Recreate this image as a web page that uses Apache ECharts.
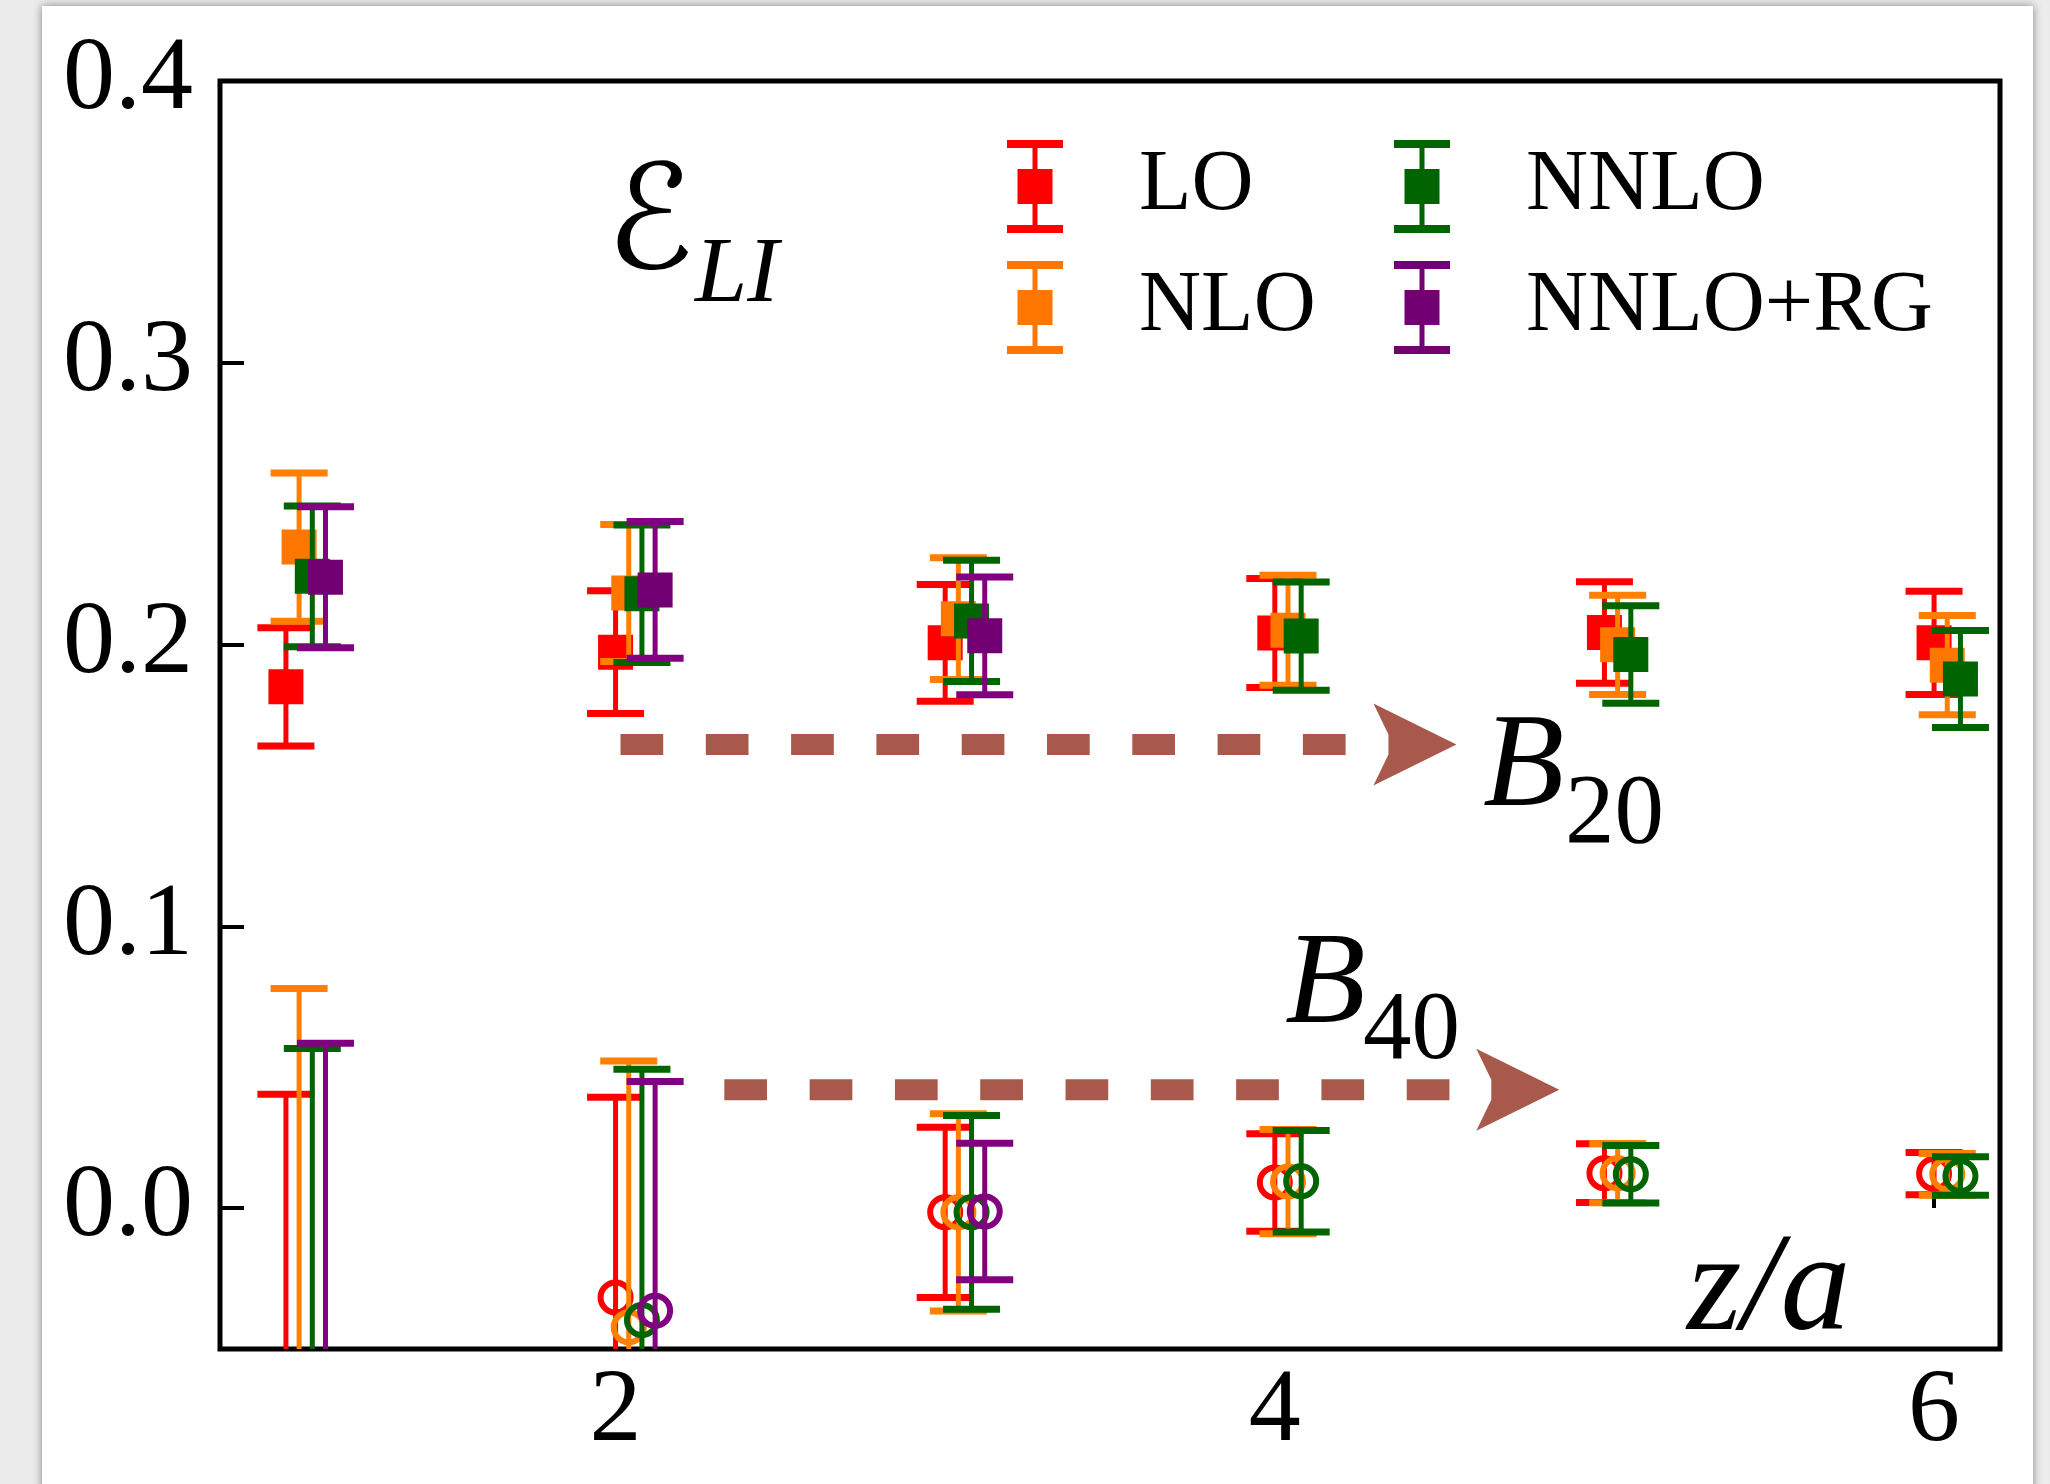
<!DOCTYPE html>
<html>
<head>
<meta charset="utf-8">
<script src="https://cdn.jsdelivr.net/npm/echarts@6.0.0/dist/echarts.min.js"></script>
<style>
  html, body { margin: 0; padding: 0; width: 2050px; height: 1484px; overflow: hidden; background: #ececec; }
  #card { position: absolute; left: 42px; top: 6px; width: 1991px; height: 1500px; background: #fff; box-shadow: 0 0 9px rgba(0,0,0,0.45); }
  #chart { position: absolute; left: 0; top: 0; width: 2050px; height: 1484px; }
</style>
</head>
<body>
<div id="card"></div>
<div id="chart"></div>
<script>
// ---------------- data ----------------
const zValues = [1, 2, 3, 4, 5, 6];
const zRG = [1, 2, 3];
const xTicks = [2, 4, 6];
const yTicks = [0.0, 0.1, 0.2, 0.3, 0.4];

// B20 (filled squares): central values and errors
const b20_LO      = [0.185, 0.1973, 0.2006, 0.2041, 0.2043, 0.2006];
const b20_LO_err  = [0.021, 0.0218, 0.0207, 0.0193, 0.0180, 0.0183];
const b20_NLO     = [0.2346, 0.2183, 0.2092, 0.2051, 0.1999, 0.1927];
const b20_NLO_err = [0.0263, 0.0243, 0.0216, 0.0195, 0.0176, 0.0176];
const b20_NNLO     = [0.2242, 0.2180, 0.2084, 0.2030, 0.1965, 0.1878];
const b20_NNLO_err = [0.0250, 0.0244, 0.0215, 0.0192, 0.0173, 0.0172];
const b20_RG      = [0.2239, 0.2194, 0.2031];
const b20_RG_err  = [0.0250, 0.0243, 0.0209];

// B40 (open circles): central values and errors
const b40_LO      = [-0.100, -0.0317, -0.0015, 0.0091, 0.0124, 0.0122];
const b40_LO_err  = [0.1404, 0.0710, 0.0302, 0.0173, 0.0104, 0.0075];
const b40_NLO     = [-0.100, -0.0423, -0.0015, 0.0094, 0.0124, 0.0120];
const b40_NLO_err = [0.1779, 0.0945, 0.0350, 0.0185, 0.0105, 0.0074];
const b40_NNLO     = [-0.100, -0.0397, -0.0015, 0.0095, 0.0120, 0.0114];
const b40_NNLO_err = [0.1566, 0.0890, 0.0344, 0.0180, 0.0102, 0.0068];
const b40_RG      = [-0.100, -0.0364, -0.0012];
const b40_RG_err  = [0.1585, 0.0813, 0.0242];

// annotation arrows (data coords): [xStart, y, xTip]
const arrowB20 = [[2.015, 0.1645, 4.551]];
const arrowB40 = [[2.330, 0.0420, 4.863]];

// ---------------- styles ----------------
const SERIES = [
  { name: 'LO',       bar: '#ff0000', mark: '#ff0000', shift: 0.00, z: zValues, b20: b20_LO,   e20: b20_LO_err,   b40: b40_LO,   e40: b40_LO_err },
  { name: 'NLO',      bar: '#ff7f00', mark: '#ff7700', shift: 0.04, z: zValues, b20: b20_NLO,  e20: b20_NLO_err,  b40: b40_NLO,  e40: b40_NLO_err },
  { name: 'NNLO',     bar: '#006400', mark: '#006400', shift: 0.08, z: zValues, b20: b20_NNLO, e20: b20_NNLO_err, b40: b40_NNLO, e40: b40_NNLO_err },
  { name: 'NNLO+RG',  bar: '#800080', mark: '#720072', shift: 0.12, z: zRG,     b20: b20_RG,   e20: b20_RG_err,   b40: b40_RG,   e40: b40_RG_err }
];
const ARROW_COLOR = '#a8594b';
const SERIF = "'Liberation Serif', 'Times New Roman', serif";

function errRender(barColor, markColor, shape) {
  return function (params, api) {
    const x = api.value(0), y = api.value(1), e = api.value(2);
    const c = api.coord([x, y]);
    const t = api.coord([x, y + e]);
    const b = api.coord([x, y - e]);
    const capW = 28.5;
    const children = [
      { type: 'line', shape: { x1: c[0], y1: t[1], x2: c[0], y2: b[1] }, style: { stroke: barColor, lineWidth: 5 } },
      { type: 'line', shape: { x1: c[0] - capW, y1: t[1], x2: c[0] + capW, y2: t[1] }, style: { stroke: barColor, lineWidth: 7 } },
      { type: 'line', shape: { x1: c[0] - capW, y1: b[1], x2: c[0] + capW, y2: b[1] }, style: { stroke: barColor, lineWidth: 7 } }
    ];
    if (shape === 'square') {
      children.push({ type: 'rect', shape: { x: c[0] - 17.5, y: c[1] - 17.5, width: 35, height: 35 }, style: { fill: markColor } });
    } else {
      children.push({ type: 'circle', shape: { cx: c[0], cy: c[1], r: 15 }, style: { fill: null, stroke: barColor, lineWidth: 6 } });
    }
    return { type: 'group', children: children };
  };
}

function arrowRender(params, api) {
  const x0 = api.value(0), y = api.value(1), x1 = api.value(2);
  const s = api.coord([x0, y]);
  const t = api.coord([x1, y]);
  const headL = 83, headH = 41, notch = 68;
  return {
    type: 'group',
    children: [
      { type: 'line', shape: { x1: s[0], y1: s[1], x2: t[0] - headL, y2: t[1] },
        style: { stroke: ARROW_COLOR, lineWidth: 21, lineDash: [42.7, 42.6], lineCap: 'butt' } },
      { type: 'polygon', shape: { points: [
          [t[0], t[1]], [t[0] - headL, t[1] - headH], [t[0] - notch, t[1] - 10],
          [t[0] - notch, t[1] + 10], [t[0] - headL, t[1] + headH]] },
        style: { fill: ARROW_COLOR } }
    ]
  };
}

const series = [];
series.push({ type: 'custom', name: 'arrowB20', data: arrowB20, renderItem: arrowRender, clip: true, silent: true, z: 1 });
series.push({ type: 'custom', name: 'arrowB40', data: arrowB40, renderItem: arrowRender, clip: true, silent: true, z: 1 });
SERIES.forEach(function (s) {
  const d20 = s.z.map(function (z, i) { return [z + s.shift, s.b20[i], s.e20[i]]; });
  const d40 = s.z.map(function (z, i) { return [z + s.shift, s.b40[i], s.e40[i]]; });
  series.push({ type: 'custom', name: s.name, data: d20, encode: { x: 0, y: 1 }, renderItem: errRender(s.bar, s.mark, 'square'), clip: true, itemStyle: { color: s.mark }, z: 2 });
  series.push({ type: 'custom', name: s.name, data: d40, encode: { x: 0, y: 1 }, renderItem: errRender(s.bar, s.mark, 'circle'), clip: true, itemStyle: { color: s.mark }, z: 2 });
});

const legendIcon = 'path://M0,0H56V8H0Z M25.5,8H30.5V29H25.5Z M10.5,29H45.5V64H10.5Z M25.5,64H30.5V85H25.5Z M0,85H56V93H0Z';
function legendCfg(left, names) {
  return {
    data: names.map(function (n) { return { name: n, icon: legendIcon }; }),
    orient: 'vertical', left: left, top: 140, padding: 0,
    itemWidth: 56, itemHeight: 93, itemGap: 28, selectedMode: false,
    itemStyle: { borderWidth: 0 },
    textStyle: { fontFamily: SERIF, fontSize: 86, color: '#000', padding: [0, 0, 0, 71] }
  };
}

const chart = echarts.init(document.getElementById('chart'), null, { renderer: 'canvas' });
chart.setOption({
  backgroundColor: 'transparent',
  animation: false,
  color: SERIES.map(function (s) { return s.mark; }),
  grid: { left: 220, right: 50, top: 81, bottom: 135, show: true, borderColor: '#000', borderWidth: 5, backgroundColor: 'transparent' },
  xAxis: {
    type: 'value', min: 0.8, max: 6.2,
    axisLine: { show: false },
    splitLine: { show: false },
    axisTick: { show: true, inside: true, length: 23, lineStyle: { color: '#000', width: 4 }, customValues: xTicks },
    axisLabel: { customValues: xTicks, fontFamily: SERIF, fontSize: 104, color: '#000', margin: 64, verticalAlign: 'middle' }
  },
  yAxis: {
    type: 'value', min: -0.05, max: 0.4,
    axisLine: { show: false },
    splitLine: { show: false },
    axisTick: { show: true, inside: true, length: 24, lineStyle: { color: '#000', width: 4 }, customValues: yTicks },
    axisLabel: { customValues: yTicks, fontFamily: SERIF, fontSize: 104, color: '#000', margin: 27,
      formatter: function (v) { return Number(v).toFixed(1); } }
  },
  legend: [ legendCfg(1007, ['LO', 'NLO']), legendCfg(1394, ['NNLO', 'NNLO+RG']) ],
  graphic: [
    { type: 'text', x: 650, y: 230, style: { text: '\u2130', font: "italic 145px 'DejaVu Serif', 'DejaVu Sans', serif", fill: '#000', align: 'center', verticalAlign: 'middle' } },
    { type: 'text', x: 695, y: 276, style: { text: 'LI', font: "italic 94px " + SERIF, fill: '#000', align: 'left', verticalAlign: 'middle' } },
    { type: 'text', x: 1483, y: 770, style: { text: 'B', font: "italic 133px " + SERIF, fill: '#000', align: 'left', verticalAlign: 'middle' } },
    { type: 'text', x: 1565, y: 816, style: { text: '20', font: "99px " + SERIF, fill: '#000', align: 'left', verticalAlign: 'middle' } },
    { type: 'text', x: 1285, y: 987, style: { text: 'B', font: "italic 132px " + SERIF, fill: '#000', align: 'left', verticalAlign: 'middle' } },
    { type: 'text', x: 1363, y: 1033, style: { text: '40', font: "97px " + SERIF, fill: '#000', align: 'left', verticalAlign: 'middle' } },
    { type: 'text', x: 1687, y: 1292, style: { text: 'z/a', font: "italic 140px " + SERIF, fill: '#000', align: 'left', verticalAlign: 'middle' } }
  ],
  series: series
});
</script>
</body>
</html>
